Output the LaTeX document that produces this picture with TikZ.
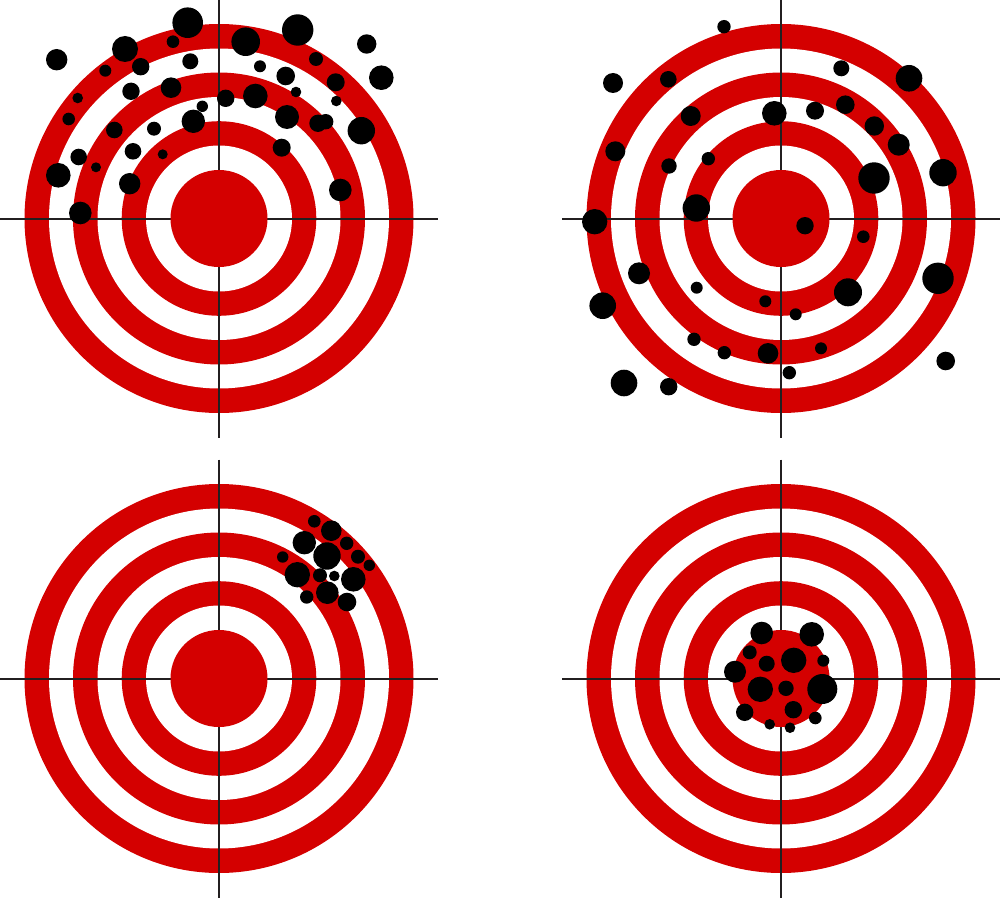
\documentclass[tikz,border=0pt]{standalone}
\definecolor{tred}{HTML}{D40000}
\definecolor{tline}{HTML}{231F20}
\tikzset{
  redfill/.style={fill=tred},
  whitefill/.style={fill=white},
  hole/.style={fill=black},
  crossline/.style={draw=tline, line width=2pt},
}
\newcommand{\mytarget}[2]{%
  \fill[redfill] (#1,#2) circle (194.5pt);
  \fill[whitefill] (#1,#2) circle (170pt);
  \fill[redfill] (#1,#2) circle (146pt);
  \fill[whitefill] (#1,#2) circle (121.5pt);
  \fill[redfill] (#1,#2) circle (97.3pt);
  \fill[whitefill] (#1,#2) circle (73pt);
  \draw[crossline] ({#1-219},#2) -- ({#1+219},#2);
  \draw[crossline] (#1,{#2-219}) -- (#1,{#2+219});
  \fill[redfill] (#1,#2) circle (48.5pt);
}
\begin{document}
\begin{tikzpicture}[x=1pt,y=-1pt]
\useasboundingbox (0,0) rectangle (1000,912);
\mytarget{219}{218.5}
\mytarget{781}{218.5}
\mytarget{219}{678.5}
\mytarget{781}{678.5}
% target 1 holes
\foreach \x/\y/\r in {
187.7/22.7/15.3, 297.7/30/15.7, 245.7/41.7/14.3, 125/49/13, 56.7/59.7/10.7,
366.7/44/9.7, 381.3/77.7/12.3, 173/41.7/6.3, 140.7/66.7/8.7, 105.3/70.7/6,
190.3/61.3/8, 260/66.3/6, 285.7/76/9.3, 316/59/7, 335.7/82.3/9,
296/92/5.3, 336.3/101/5.3, 77.7/98/5.3, 131/91.3/8.7, 171/87.7/10.3,
225.7/98.3/8.7, 255.3/96/12.3, 202.3/106.3/5.7, 68.7/119/6.3, 193.3/121.3/11.7,
287/117/12, 318/123.3/8.7, 325.7/121.7/7.7, 361.3/130.7/13.7, 114.3/130/8.3,
154/128.7/7, 133/151.3/8.3, 162.7/154.3/5, 78.7/157/8.3, 96/167.3/5,
281.7/147.7/9, 58.3/175.3/12.3, 129.7/183.7/10.7, 340.3/190/11.3, 80.3/213/11.3}
  \fill[hole] (\x,\y) circle (\r pt);
% target 2 holes
\foreach \x/\y/\r in {
724/26.7/6.7, 613/83/10, 668.3/79.3/8.3, 841.3/68.3/8, 909/78.3/13.3,
690.7/116/10, 774.3/113.3/12.3, 815/110.7/9, 845.3/104.7/9.3, 874.3/126/9.7,
898.7/144.7/11, 615.3/151.3/10, 669/166/7.7, 708.3/158.7/6.7, 874/178/15.7,
943/172.7/13.7, 696.3/208/13.7, 594.7/221.7/12.7, 805/225.7/8.7, 863.3/236.7/6.3,
639/273.3/11, 696.7/287.7/6, 602.7/305.7/13.3, 765.3/301.3/6, 795.7/314.3/6,
848/292.3/14, 938/278.3/15.7, 694/339.3/6.7, 724.3/352.7/6.7, 768/353.3/10.3,
821/348.3/6, 789.3/372.7/6.7, 945.7/361/9.3, 624/383/13.3, 668.7/386.7/8.7}
  \fill[hole] (\x,\y) circle (\r pt);
% target 3 holes
\foreach \x/\y/\r in {
314.3/521.3/6.3, 331.3/530.7/10.3, 304.3/542.7/11.7, 346.7/543.3/6.7, 327/556/13.7,
282.7/557/5.7, 358/556.7/7, 369.3/565.3/5.7, 297.3/574.7/12.7, 320/575.3/7,
334.3/576/5.3, 353.3/579.3/12.3, 327.3/592.7/11.3, 306.7/597/6.7, 347/602/9.3}
  \fill[hole] (\x,\y) circle (\r pt);
% target 4 holes
\foreach \x/\y/\r in {
761.7/633/11.3, 811.7/634.3/12.3, 749.7/652.3/7, 766.7/663.7/8, 793.7/660.3/12.7,
823.3/660.7/6, 735/671.7/11, 760.3/689.3/12.7, 786/688.3/7.7, 822.3/689/15,
744.7/712.3/8.7, 793.3/709.7/8.7, 815.3/718/6.3, 769.7/724.3/5.3, 790/727.7/5.3}
  \fill[hole] (\x,\y) circle (\r pt);
\end{tikzpicture}
\end{document}
